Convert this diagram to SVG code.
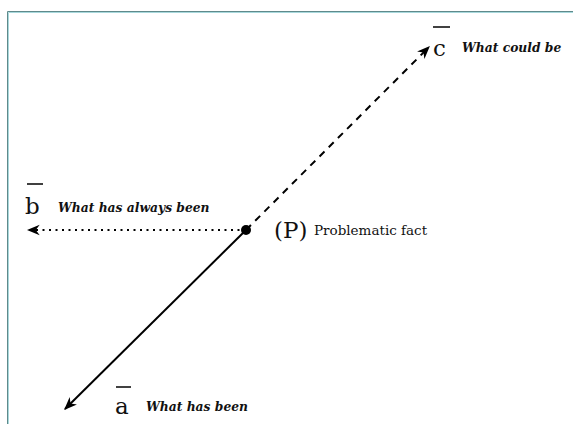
<svg xmlns="http://www.w3.org/2000/svg" width="573" height="424" viewBox="0 0 573 424">
<style>
.lbl{font-family:"DejaVu Serif","Liberation Serif",serif;fill:#111;}
.big{font-size:23px;}
.it{font-size:12.3px;font-style:italic;font-weight:bold;}
.pf{font-size:13.5px;}
.bar{stroke:#111;stroke-width:1.6;}
.ln{stroke:#000;stroke-width:2;fill:none;}
</style>
<defs>
<marker id="ah" viewBox="0 0 10 10" refX="9" refY="5" markerWidth="6.5" markerHeight="6.5" orient="auto" markerUnits="strokeWidth">
<path d="M0,1 L10,5 L0,9 L3,5 Z" fill="#000"/>
</marker>
</defs>
<rect width="573" height="424" fill="#fff"/>
<g id="frame">
<path d="M7.5,424 V11.5 H573" fill="none" stroke="#5f8a8b" stroke-width="1"/>
<path d="M8.5,424 V12.5 H573" fill="none" stroke="#a8d8dc" stroke-width="1"/>
</g>
<g id="connectors">
<line class="ln" x1="246" y1="230" x2="429" y2="47" stroke-dasharray="7,6" marker-end="url(#ah)"/>
<line class="ln" x1="246" y1="230" x2="28" y2="230" stroke-dasharray="2,4.5" marker-end="url(#ah)"/>
<line class="ln" x1="246" y1="230" x2="65" y2="409" marker-end="url(#ah)"/>
</g>
<g id="P">
<circle cx="246" cy="230" r="5" fill="#000"/>
<text class="lbl big" x="274" y="238">(P)</text>
<text class="lbl pf" x="314" y="235">Problematic fact</text>
</g>
<g id="c">
<line class="bar" x1="433" y1="27" x2="450" y2="27"/>
<text class="lbl big" x="433" y="56">c</text>
<text class="lbl it" x="462" y="52">What could be</text>
</g>
<g id="b">
<line class="bar" x1="27" y1="184" x2="43" y2="184"/>
<text class="lbl big" x="25" y="214">b</text>
<text class="lbl it" x="58" y="212">What has always been</text>
</g>
<g id="a">
<line class="bar" x1="116" y1="387" x2="131" y2="387"/>
<text class="lbl big" x="115" y="414">a</text>
<text class="lbl it" x="146" y="411">What has been</text>
</g>
</svg>
